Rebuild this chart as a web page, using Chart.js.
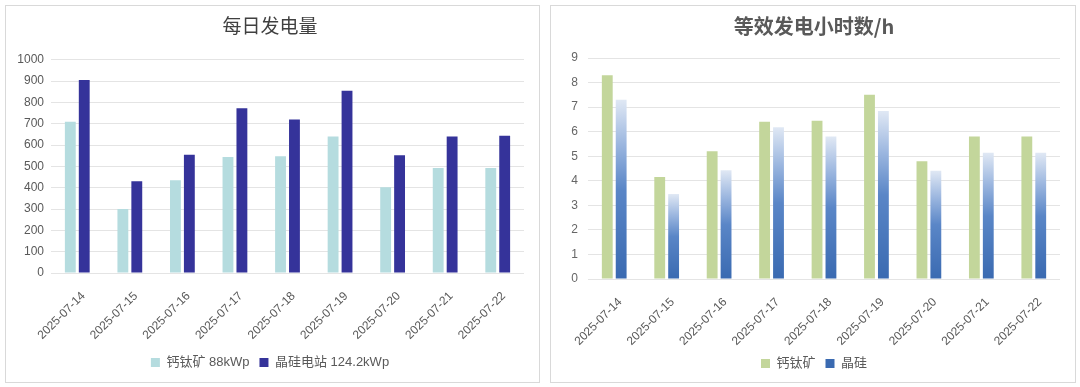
<!DOCTYPE html>
<html><head><meta charset="utf-8">
<script src="https://cdn.jsdelivr.net/npm/chart.js@4"></script>
<style>
html,body{margin:0;padding:0;background:#fff;width:1080px;height:387px;overflow:hidden;}
.panel{position:absolute;top:5px;border:1px solid #d9d9d9;background:#fff;}
#p1{left:5px;width:533px;height:376px;}
#p2{left:550px;width:524px;height:376px;}
canvas{display:block;}
</style></head><body>
<div class="panel" id="p1"><canvas id="c1" width="533" height="376"></canvas></div>
<div class="panel" id="p2"><canvas id="c2" width="524" height="376"></canvas></div>
<script>
const categories = ['2025-07-14','2025-07-15','2025-07-16','2025-07-17','2025-07-18','2025-07-19','2025-07-20','2025-07-21','2025-07-22'];
const energyPerovskite = [710, 300, 435, 544, 548, 640, 402, 492, 492];
const energySilicon    = [905, 430, 555, 773, 720, 855, 552, 640, 644];
const hoursPerovskite  = [8.3, 4.15, 5.2, 6.4, 6.44, 7.5, 4.8, 5.8, 5.8];
const hoursSilicon     = [7.3, 3.46, 4.43, 6.18, 5.8, 6.84, 4.41, 5.14, 5.14];
const energyTicks = [0, 100, 200, 300, 400, 500, 600, 700, 800, 900, 1000];
const hoursTicks  = [0, 1, 2, 3, 4, 5, 6, 7, 8, 9];

const FONT = "'Liberation Sans', 'Noto Sans CJK SC', sans-serif";
const CJK = "'Noto Sans CJK SC', 'Liberation Sans', sans-serif";

function siliconGradient(ctx){
  const fallback = '#4d7dc3';
  if (ctx.type !== 'data') return fallback;
  const chart = ctx.chart; const y = chart.scales && chart.scales.y;
  if (!chart.chartArea || !y) return fallback;
  const top = y.getPixelForValue(ctx.raw), bottom = y.getPixelForValue(0);
  if (!isFinite(top) || !isFinite(bottom) || top === bottom) return fallback;
  const g = chart.ctx.createLinearGradient(0, top, 0, bottom);
  g.addColorStop(0, '#e0e8f4');
  g.addColorStop(0.25, '#9bb6df');
  g.addColorStop(0.5, '#5a86c7');
  g.addColorStop(1, '#3a6ab1');
  return g;
}

function makeChart(id, cfg){
  return new Chart(document.getElementById(id), {
    type: 'bar',
    data: {
      labels: categories,
      datasets: cfg.datasets
    },
    options: {
      responsive: false,
      animation: false,
      layout: { padding: { left: cfg.padLeft, right: 15, top: 0, bottom: cfg.padBottom } },
      plugins: {
        tooltip: { enabled: false },
        title: {
          display: true, text: cfg.title, color: cfg.titleColor,
          font: { family: CJK, size: cfg.titleSize, weight: cfg.titleWeight },
          padding: { top: cfg.titleTop, bottom: cfg.titleBottom }
        },
        legend: {
          position: 'bottom',
          labels: {
            color: '#595959', boxWidth: 9, boxHeight: 9, padding: 10,
            font: { family: FONT, size: 13 }
          }
        }
      },
      scales: {
        x: {
          grid: { display: false },
          border: { display: false },
          ticks: {
            color: '#595959', autoSkip: false, maxRotation: 45, minRotation: 45,
            padding: 8, labelOffset: 6, font: { family: FONT, size: 12 }
          },
          afterFit(s){ s.height = cfg.xHeight; }
        },
        y: {
          min: 0, max: cfg.ticks[cfg.ticks.length - 1],
          afterBuildTicks(s){ s.ticks = cfg.ticks.map(v => ({ value: v })); },
          grid: { color: '#e4e4e4', drawTicks: false },
          border: { display: false },
          ticks: { color: cfg.yColor, padding: cfg.yPad, font: { family: FONT, size: 12 },
                   callback: v => String(v) },
          afterFit(s){ s.width = cfg.yWidth; }
        }
      }
    }
  });
}

makeChart('c1', {
  title: '每日发电量', titleColor: '#404040', titleSize: 19, titleWeight: 'normal',
  titleTop: 8, titleBottom: 23,
  ticks: energyTicks, padLeft: 10, yWidth: 35, yPad: 7, yColor: '#595959', xHeight: 73, padBottom: 3,
  datasets: [
    { label: '钙钛矿 88kWp', data: energyPerovskite, backgroundColor: '#b5dcdf',
      categoryPercentage: 0.53, barPercentage: 0.78 },
    { label: '晶硅电站 124.2kWp', data: energySilicon, backgroundColor: '#35339a',
      categoryPercentage: 0.53, barPercentage: 0.78 }
  ]
});

makeChart('c2', {
  title: '等效发电小时数/h', titleColor: '#595959', titleSize: 20, titleWeight: 'bold',
  titleTop: 8, titleBottom: 20,
  ticks: hoursTicks, padLeft: 17, yWidth: 20, yPad: 10, yColor: '#666666', xHeight: 68, padBottom: 2,
  datasets: [
    { label: '钙钛矿', data: hoursPerovskite, backgroundColor: '#c3d69b',
      categoryPercentage: 0.53, barPercentage: 0.78 },
    { label: '晶硅', data: hoursSilicon, backgroundColor: siliconGradient,
      categoryPercentage: 0.53, barPercentage: 0.78 }
  ]
});
</script>
</body></html>
